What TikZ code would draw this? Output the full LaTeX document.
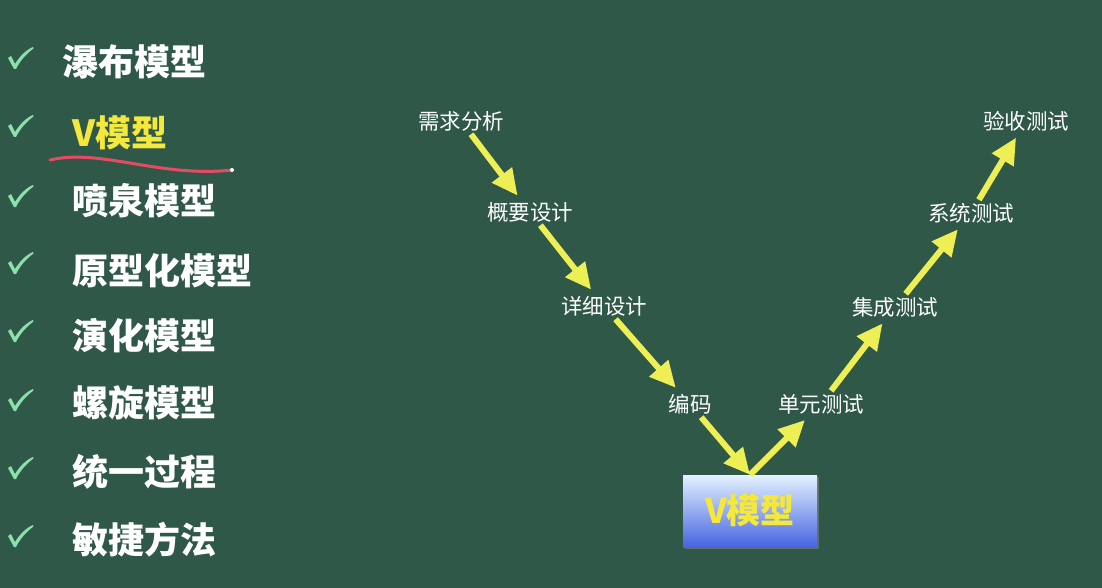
\documentclass[tikz,border=0pt]{standalone}
\usepackage{fontspec}
\newfontfamily\cjk{Noto Sans CJK SC}
\usetikzlibrary{arrows.meta,shadows}
\definecolor{board}{RGB}{47,88,73}
\definecolor{chalkyellow}{RGB}{238,238,85}
\definecolor{checkgreen}{RGB}{140,225,170}
\definecolor{redline}{RGB}{230,75,100}
\definecolor{boxtop}{RGB}{228,242,255}
\definecolor{boxbot}{RGB}{70,100,225}
\definecolor{vyellow}{RGB}{245,232,60}
\begin{document}
\begin{tikzpicture}[x=1pt,y=-1pt,
  stage/.style={text=white, font=\cjk\fontsize{21.5}{22}\selectfont, inner sep=0pt, minimum height=26pt},
  flow/.style={draw=chalkyellow, line width=6pt, -{Triangle[length=26pt,width=24pt]}, shorten >=4pt},
  item/.style={anchor=west, text=white, font=\cjk\bfseries\fontsize{36}{36}\selectfont, inner sep=0pt},
  pics/checkmk/.style={code={
    \fill[checkgreen] (-12,-1) -- (-9,-3) -- (-5,5) .. controls (0,-3) and (6,-9) .. (13,-12)
      -- (13.5,-10.5) .. controls (6,-5) and (0,2) .. (-4,10) -- (-6,10) -- cycle;}}
]
\fill[board] (0,0) rectangle (1102,588);
\useasboundingbox (0,0) rectangle (1102,588);

% left list
\pic at (20,59) {checkmk};
\pic at (20,127) {checkmk};
\pic at (20,197) {checkmk};
\pic at (20,264) {checkmk};
\pic at (20,332) {checkmk};
\pic at (20,401) {checkmk};
\pic at (20,469) {checkmk};
\pic at (20,537) {checkmk};
\node[item] (i1) at (62,62) {瀑布模型};
\node[item, text=vyellow] (i2) at (72,133) {V模型};
\node[item] (i3) at (72,201) {喷泉模型};
\node[item] (i4) at (72,271) {原型化模型};
\node[item] (i5) at (72,336) {演化模型};
\node[item] (i6) at (72,403) {螺旋模型};
\node[item] (i7) at (72,472) {统一过程};
\node[item] (i8) at (72,540) {敏捷方法};
\coordinate (u0) at (50,160);
\coordinate (u1) at (232,170);
\draw[redline, line width=3pt, line cap=round] (u0) .. controls (100,148) and (160,178) .. (u1);
\fill[white] (u1) circle (2pt);

% V diagram
\node[stage] (s1) at (461,121) {需求分析};
\node[stage] (s2) at (530,212) {概要设计};
\node[stage] (s3) at (604,306) {详细设计};
\node[stage] (s4) at (690,404) {编码};
\node[stage] (s5) at (821,404) {单元测试};
\node[stage] (s6) at (895,307) {集成测试};
\node[stage] (s7) at (971,213) {系统测试};
\node[stage] (s8) at (1026,121) {验收测试};
\node[top color=boxtop, bottom color=boxbot, minimum width=134pt, minimum height=72pt,
      drop shadow={opacity=0.6}, text=vyellow,
      font=\cjk\bfseries\fontsize{34}{34}\selectfont] (vbox) at (750,511) {V模型};

\draw[flow] (s1) -- (s2);
\draw[flow] (s2) -- (s3);
\draw[flow] (s3) -- (s4);
\draw[flow, shorten >=0pt] (s4) -- (vbox.north);
\draw[flow, shorten <=0pt] (vbox.north) -- (s5);
\draw[flow] (s5) -- (s6);
\draw[flow] (s6) -- (s7);
\draw[flow] (s7) -- (s8);
\end{tikzpicture}
\end{document}
